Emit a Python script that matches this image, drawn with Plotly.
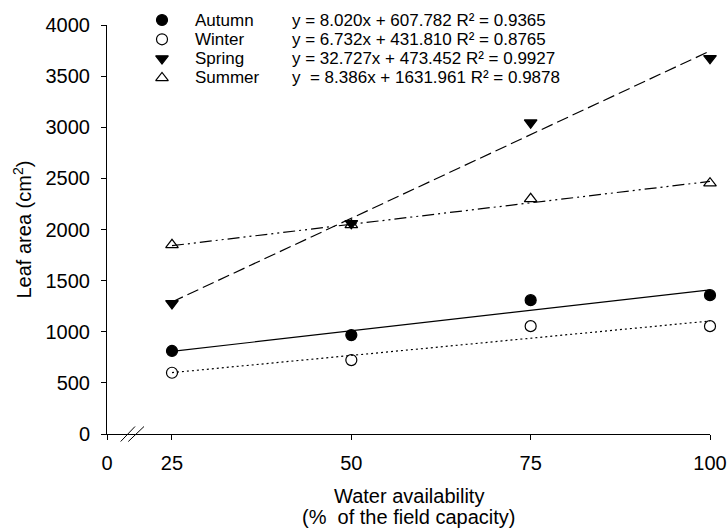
import plotly.graph_objects as go

# ---- data ----
water = [25, 50, 75, 100]
seasons = ["Autumn", "Winter", "Spring", "Summer"]
autumn = [812, 967, 1309, 1358]
winter = [599, 723, 1055, 1055]
spring = [1277, 2060, 3045, 3674]
summer = [1850, 2045, 2300, 2453]
slopes = [8.020, 6.732, 32.727, 8.386]
intercepts = [607.782, 431.810, 473.452, 1631.961]
equations = [
    "y = 8.020x + 607.782 R² = 0.9365",
    "y = 6.732x + 431.810 R² = 0.8765",
    "y = 32.727x + 473.452 R² = 0.9927",
    "y  = 8.386x + 1631.961 R² = 0.9878",
]
x_tick_vals = [15.94, 25, 50, 75, 100]
x_tick_text = ["0", "25", "50", "75", "100"]

series = [autumn, winter, spring, summer]
symbols = ["circle", "circle-open", "triangle-down", "triangle-up-open"]
dashes = ["solid", "2px,3px", "12px,5px", "12px,4px,2px,4px,2px,4px"]

FONT = "Liberation Sans, Arial, sans-serif"
FS = 20
LFS = 17
W, H = 727, 530
L, R, T, B = 107, 17, 5, 96
plot_w = W - L - R
plot_h = H - T - B


def py(ypx):
    """pixel row -> paper y"""
    return (H - B - ypx) / plot_h


def px(xpx):
    return (xpx - L) / plot_w


fig = go.Figure()

for i, name in enumerate(seasons):
    xf = [water[0], water[-1]]
    yf = [slopes[i] * x + intercepts[i] for x in xf]
    fig.add_trace(go.Scatter(x=xf, y=yf, mode="lines",
                             line=dict(color="black", width=1.2, dash=dashes[i]),
                             showlegend=False, hoverinfo="skip"))
for i, name in enumerate(seasons):
    fig.add_trace(go.Scatter(x=water, y=series[i], mode="markers", name=name,
                             marker=dict(symbol=symbols[i], size=11, color="black",
                                         line=dict(color="black", width=1.2)),
                             showlegend=False, cliponaxis=False))
    # legend key on overlay axes
    fig.add_trace(go.Scatter(x=[0], y=[i], mode="markers", xaxis="x2", yaxis="y2",
                             marker=dict(symbol=symbols[i], size=11, color="black",
                                         line=dict(color="black", width=1.2)),
                             showlegend=False, hoverinfo="skip", cliponaxis=False))
    fig.add_annotation(xref="paper", yref="y2", x=px(193), y=i, text=name,
                       showarrow=False, xanchor="left", yanchor="middle",
                       font=dict(family=FONT, size=LFS, color="black"))
    fig.add_annotation(xref="paper", yref="y2", x=px(290), y=i, text=equations[i],
                       showarrow=False, xanchor="left", yanchor="middle",
                       font=dict(family=FONT, size=LFS, color="black"))

# legend rows centred at pixel rows ~20 .. 78
row_sp = 19.3
row_top = 20 - row_sp / 2
row_bot = 20 + 3 * row_sp + row_sp / 2

fig.update_layout(
    width=W, height=H,
    autosize=False,
    margin=dict(l=L, r=R, t=T, b=B, pad=0, autoexpand=False),
    paper_bgcolor="white", plot_bgcolor="white",
    font=dict(family=FONT, size=FS, color="black"),
    showlegend=False,
    xaxis=dict(range=[15.94, 100], tickvals=x_tick_vals, ticktext=x_tick_text,
               showline=True, linecolor="black", linewidth=1, ticks="outside",
               ticklen=5, tickcolor="black", showgrid=False, zeroline=False,
               ticklabelstandoff=6, tickfont=dict(size=FS), automargin=False),
    yaxis=dict(range=[0, 4000], dtick=500, domain=[0, py(25)],
               showline=True, linecolor="black", linewidth=1, ticks="outside",
               ticklen=5, tickcolor="black", showgrid=False, zeroline=False,
               ticklabelstandoff=7, tickfont=dict(size=FS), automargin=False),
    xaxis2=dict(domain=[px(157), px(167)], range=[-1, 1], visible=False,
                anchor="y2", automargin=False),
    yaxis2=dict(domain=[py(row_bot), py(row_top)], range=[3.5, -0.5], visible=False,
                anchor="x2", automargin=False),
)

# break marks "//" on x axis
for xa, xb in [(120.7, 135.0), (128.3, 144.0)]:
    fig.add_shape(type="line", xref="paper", yref="paper",
                  x0=px(xa), x1=px(xb), y0=py(441.5), y1=py(426.5),
                  line=dict(color="black", width=1))

fig.add_annotation(xref="paper", yref="paper", x=0.5, y=py(496),
                   text="Water availability",
                   showarrow=False, xanchor="center", yanchor="middle",
                   font=dict(family=FONT, size=FS, color="black"))
fig.add_annotation(xref="paper", yref="paper", x=0.5, y=py(517),
                   text="(%  of the field capacity)",
                   showarrow=False, xanchor="center", yanchor="middle",
                   font=dict(family=FONT, size=FS, color="black"))
fig.add_annotation(xref="paper", yref="y", x=px(22), y=2000,
                   text="Leaf area (cm<sup>2</sup>)", textangle=-90,
                   showarrow=False, xanchor="center", yanchor="middle",
                   font=dict(family=FONT, size=FS, color="black"))

fig.write_html("out.html")
